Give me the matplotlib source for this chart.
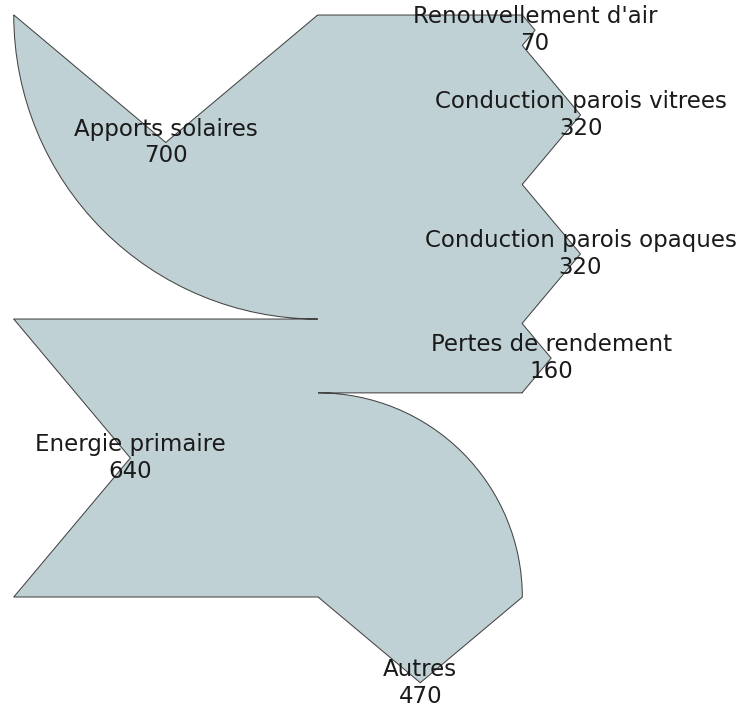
import matplotlib
matplotlib.use('Agg')
import matplotlib.pyplot as plt
from matplotlib.sankey import Sankey

# flux du bilan energetique
labels = ['Apports solaires', 'Energie primaire', "Renouvellement d'air",
          'Conduction parois vitrees', 'Conduction parois opaques',
          'Pertes de rendement', 'Autres']
flows = [700, 640, -70, -320, -320, -160, -470]
orientations = [1, 0, 0, 0, 0, 0, -1]

plt.rcParams['font.size'] = 11
plt.rcParams['text.color'] = '#1a1a1a'
fig = plt.figure(figsize=(4.96, 4.72), dpi=150)
ax = fig.add_axes([0, 0, 1, 1])

sankey = Sankey(ax=ax, scale=1.0, unit='', format='%G')
sankey.add(flows=flows, labels=labels, orientations=orientations,
           facecolor='#bfd1d4', edgecolor='#444444', lw=0.5)
sankey.finish()

# cadrage
ax.set_aspect('auto')
ax.set_xlim(-732.2, 980.9)
ax.set_ylim(-925.6, 704.6)
ax.axis('off')

fig.savefig('out.png', dpi=150)
